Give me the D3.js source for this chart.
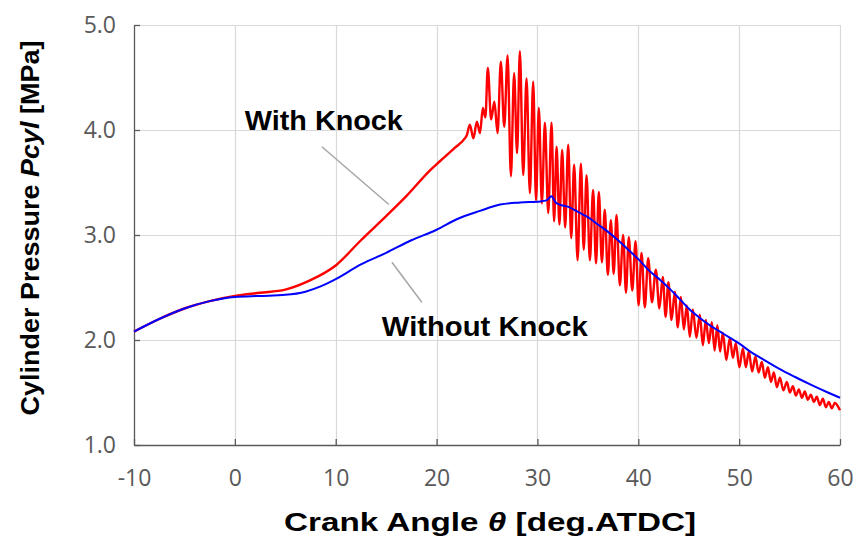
<!DOCTYPE html>
<html>
<head>
<meta charset="utf-8">
<script src="https://cdn.jsdelivr.net/npm/d3@7"></script>
<style>
  body { margin: 0; background: #ffffff; }
  svg { display: block; }
</style>
</head>
<body>
<svg id="chart" width="858" height="539"></svg>
<script>
// ---------------- data ----------------
const angleTicks = [-10, 0, 10, 20, 30, 40, 50, 60];
const pressureTicks = [1.0, 2.0, 3.0, 4.0, 5.0];

// Without Knock (blue)
const withoutKnockAngle = [-10, -7.5, -5, -2.5, 0, 2.5, 5, 7, 8.5, 10, 12.5, 15, 17.5, 20, 22, 24.3, 26.3, 28.3, 30.3, 30.9, 31.4, 31.8, 32.2, 33, 34.2, 35, 36, 37, 38, 39, 40, 41.2, 42.2, 43.2, 44.2, 45.1, 46.1, 47.1, 48.1, 49.1, 50.1, 51.1, 52.3, 53.9, 55.5, 57.2, 58.8, 60];
const withoutKnockPressure = [2.08, 2.20, 2.30, 2.37, 2.41, 2.42, 2.43, 2.46, 2.51, 2.58, 2.72, 2.83, 2.95, 3.05, 3.15, 3.23, 3.29, 3.31, 3.32, 3.33, 3.37, 3.31, 3.29, 3.27, 3.21, 3.17, 3.10, 3.03, 2.95, 2.86, 2.77, 2.65, 2.57, 2.48, 2.38, 2.29, 2.21, 2.14, 2.08, 2.02, 1.96, 1.89, 1.82, 1.73, 1.65, 1.57, 1.50, 1.45];

// With Knock (red): smooth part before knock onset
const knockSmoothAngle = [-10, -7.5, -5, -2.5, 0, 2.5, 5, 7.5, 10, 12.5, 15, 17, 19.4, 20.3, 21.8, 22.8, 23.0];
const knockSmoothPressure = [2.08, 2.20, 2.30, 2.37, 2.42, 2.45, 2.48, 2.57, 2.71, 2.95, 3.18, 3.37, 3.62, 3.70, 3.83, 3.92, 3.95];
// knock oscillation: peaks
const knockPeakAngle = [23.30, 24.00, 24.59, 25.08, 25.73, 26.37, 27.04, 27.69, 28.26, 28.92, 29.58, 30.14, 30.74, 31.40, 31.90, 32.45, 33.05, 33.64, 34.31, 34.87, 35.52, 36.09, 36.68, 37.28, 37.84, 38.50, 39.06, 39.73, 40.32, 40.98, 41.74, 42.43, 42.98, 43.62, 44.22, 44.81, 45.41, 46.10, 46.70, 47.29, 47.84, 48.38, 49.08, 49.67, 50.37, 50.96, 51.61, 52.25, 52.85, 53.44, 54.04, 54.73, 55.33, 55.92, 56.51, 57.11, 57.70, 58.30, 58.89, 59.49];
const knockPeakPressure = [4.05, 4.08, 4.21, 4.59, 4.27, 4.65, 4.71, 4.54, 4.75, 4.49, 4.46, 4.21, 4.07, 4.07, 3.84, 3.81, 3.86, 3.67, 3.68, 3.57, 3.43, 3.41, 3.24, 3.14, 3.19, 3.00, 2.98, 2.94, 2.83, 2.78, 2.67, 2.60, 2.55, 2.46, 2.41, 2.33, 2.29, 2.24, 2.19, 2.17, 2.14, 2.07, 2.02, 1.97, 1.92, 1.89, 1.84, 1.79, 1.74, 1.69, 1.64, 1.60, 1.56, 1.53, 1.51, 1.48, 1.46, 1.44, 1.41, 1.40];
// knock oscillation: troughs (the last one is the end point)
const knockTroughAngle = [23.65, 24.30, 24.84, 25.41, 26.05, 26.71, 27.37, 27.98, 28.59, 29.25, 29.86, 30.44, 31.07, 31.65, 32.18, 32.75, 33.35, 33.98, 34.59, 35.20, 35.81, 36.39, 36.98, 37.56, 38.17, 38.78, 39.40, 40.03, 40.65, 41.36, 42.09, 42.71, 43.30, 43.92, 44.52, 45.11, 45.76, 46.40, 47.00, 47.57, 48.11, 48.73, 49.38, 50.02, 50.67, 51.29, 51.93, 52.55, 53.15, 53.74, 54.39, 55.03, 55.63, 56.22, 56.81, 57.41, 58.00, 58.60, 59.19, 60.0];
const knockTroughPressure = [3.92, 3.97, 4.12, 4.10, 3.97, 4.03, 3.56, 3.78, 3.57, 3.40, 3.33, 3.30, 3.21, 3.13, 3.10, 3.07, 2.97, 2.76, 2.86, 2.76, 2.73, 2.74, 2.62, 2.63, 2.52, 2.45, 2.47, 2.33, 2.31, 2.36, 2.30, 2.22, 2.19, 2.12, 2.10, 2.03, 2.02, 1.95, 1.97, 1.90, 1.89, 1.81, 1.83, 1.74, 1.74, 1.70, 1.69, 1.64, 1.60, 1.55, 1.52, 1.50, 1.47, 1.45, 1.43, 1.41, 1.38, 1.36, 1.35, 1.33];

// annotations (data coordinates)
const annotations = [
  { text: "With Knock", x: 0.99, y: 4.0, len: 158, line: [[8.63, 3.84], [15.27, 3.29]] },
  { text: "Without Knock", x: 14.57, y: 2.04, len: 206, line: [[15.57, 2.74], [18.54, 2.36]] }
];

// ---------------- build series ----------------
const blueData = withoutKnockAngle.map((a, i) => [a, withoutKnockPressure[i]]);
const redData = knockSmoothAngle.map((a, i) => [a, knockSmoothPressure[i]]);
knockPeakAngle.forEach((a, i) => {
  redData.push([a, knockPeakPressure[i]]);
  redData.push([knockTroughAngle[i], knockTroughPressure[i]]);
});

// ---------------- chart ----------------
const W = 858, H = 539;
const m = { left: 134, right: 18, top: 25, bottom: 94 };
const svg = d3.select("#chart");

const x = d3.scaleLinear().domain([-10, 60]).range([m.left, W - m.right]);
const y = d3.scaleLinear().domain([1, 5]).range([H - m.bottom, m.top]);

// gridlines
const grid = svg.append("g").attr("stroke", "#d9d9d9").attr("stroke-width", 1.2);
grid.selectAll("line.v").data(angleTicks.slice(1)).join("line")
  .attr("x1", d => Math.round(x(d)) + 0.5).attr("x2", d => Math.round(x(d)) + 0.5)
  .attr("y1", y(5)).attr("y2", y(1));
grid.selectAll("line.h").data(pressureTicks.slice(1)).join("line")
  .attr("y1", d => Math.round(y(d)) + 0.5).attr("y2", d => Math.round(y(d)) + 0.5)
  .attr("x1", x(-10)).attr("x2", x(60));

// axes
const tickFont = "'Open Sans', 'Noto Sans', sans-serif";
const xAxis = svg.append("g")
  .attr("transform", `translate(0,${y(1)})`)
  .call(d3.axisBottom(x).tickValues(angleTicks).tickSize(-6).tickSizeOuter(0).tickPadding(25).tickFormat(d => String(d)));
const yAxis = svg.append("g")
  .attr("transform", `translate(${x(-10)},0)`)
  .call(d3.axisLeft(y).tickValues(pressureTicks).tickSize(-6).tickSizeOuter(0).tickPadding(18).tickFormat(d => d.toFixed(1)));
[xAxis, yAxis].forEach(g => {
  g.select(".domain").attr("stroke", "#595959").attr("stroke-width", 1.3);
  g.selectAll(".tick line").attr("stroke", "#595959").attr("stroke-width", 1.3);
  g.selectAll(".tick text").attr("fill", "#595959").style("font-family", tickFont).style("font-size", "23px");
});
xAxis.selectAll(".tick text").attr("dy", "0.71em");

// lines
const line = d3.line().x(d => x(d[0])).y(d => y(d[1])).curve(d3.curveMonotoneX);
svg.append("path").datum(redData).attr("d", line)
  .attr("fill", "none").attr("stroke", "#ff0000").attr("stroke-width", 2.4).attr("stroke-linejoin", "round");
svg.append("path").datum(blueData).attr("d", line)
  .attr("fill", "none").attr("stroke", "#0000ff").attr("stroke-width", 2).attr("stroke-linejoin", "round");

// annotations
const titleFont = "'Liberation Sans', Arial, sans-serif";
annotations.forEach(a => {
  svg.append("line")
    .attr("x1", x(a.line[0][0])).attr("y1", y(a.line[0][1]))
    .attr("x2", x(a.line[1][0])).attr("y2", y(a.line[1][1]))
    .attr("stroke", "#a6a6a6").attr("stroke-width", 1.5);
  svg.append("text")
    .attr("x", x(a.x)).attr("y", y(a.y))
    .attr("textLength", a.len).attr("lengthAdjust", "spacingAndGlyphs")
    .style("font-family", titleFont).style("font-size", "27px").style("font-weight", "bold")
    .attr("fill", "#000").text(a.text);
});

// axis titles
const xt = svg.append("text")
  .attr("x", (x(-10) + x(60)) / 2 + 3).attr("y", 531)
  .attr("text-anchor", "middle")
  .attr("textLength", 412).attr("lengthAdjust", "spacingAndGlyphs")
  .style("font-family", titleFont).style("font-size", "26px").style("font-weight", "bold")
  .attr("fill", "#000");
xt.append("tspan").text("Crank Angle ");
xt.append("tspan").style("font-style", "italic").text("θ");
xt.append("tspan").text(" [deg.ATDC]");

const yt = svg.append("text")
  .attr("transform", `translate(39,${(y(1) + y(5)) / 2 - 7}) rotate(-90)`)
  .attr("text-anchor", "middle")
  .attr("textLength", 375).attr("lengthAdjust", "spacingAndGlyphs")
  .style("font-family", titleFont).style("font-size", "26px").style("font-weight", "bold")
  .attr("fill", "#000");
yt.append("tspan").text("Cylinder Pressure ");
yt.append("tspan").style("font-style", "italic").text("Pcyl");
yt.append("tspan").text(" [MPa]");
</script>
</body>
</html>
